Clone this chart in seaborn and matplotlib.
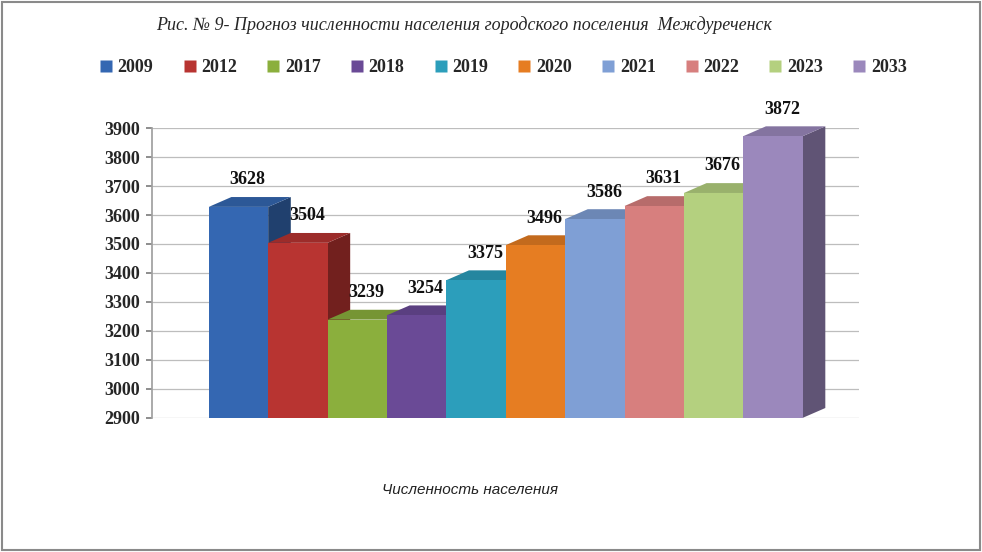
import matplotlib
matplotlib.use("Agg")
import matplotlib.pyplot as plt
import seaborn as sns
import pandas as pd
from matplotlib.patches import Polygon, Rectangle
from matplotlib.lines import Line2D
import matplotlib.colors as mcolors

years = ["2009", "2012", "2017", "2018", "2019", "2020", "2021", "2022", "2023", "2033"]
values = [3628, 3504, 3239, 3254, 3375, 3496, 3586, 3631, 3676, 3872]
category = "Численность населения"
colors = ["#3467B2", "#B83431", "#8BAF3D", "#6A4A96", "#2C9EBB",
          "#E67D22", "#7F9FD5", "#D77F7E", "#B4D07F", "#9B88BC"]
yticks = list(range(2900, 4000, 100))

df = pd.DataFrame({"cat": [category] * len(years), "year": years, "value": values})

sns.set_theme(style="white")
plt.rcParams["font.family"] = ["Liberation Serif", "DejaVu Serif"]

fig = plt.figure(figsize=(9.82, 5.52), dpi=100)
ax = fig.add_axes([0.155, 0.243, 0.72, 0.525])

sns.barplot(data=df, x="cat", y="value", hue="year", palette=colors,
            width=0.84, dodge=True, ax=ax, legend=False, saturation=1,
            edgecolor="none", linewidth=0)

ax.set_ylim(2900, 3900)
ax.set_xlim(-0.5, 0.5)
ax.set_yticks(yticks)
ax.set_yticklabels([str(t) for t in yticks], fontweight="bold", fontsize=13)
ax.tick_params(axis="y", length=4, color="#808080", pad=5, left=True)
ax.set_xticks([])
ax.set_xlabel(category, fontsize=11, style="italic",
              family=["Liberation Sans", "DejaVu Sans"], color="#222222")
ax.xaxis.set_label_coords(0.45, -0.225)
ax.set_ylabel("")
ax.yaxis.grid(True, color="#bdbdbd", linewidth=0.9)
ax.set_axisbelow(True)
for s in ["top", "right", "bottom"]:
    ax.spines[s].set_visible(False)
ax.spines["left"].set_color("#a0a0a0")

dx = 0.032   # depth in x data units
dy = 34      # depth in value units
patches = sorted(ax.patches, key=lambda p: p.get_x())
for i, p in enumerate(patches):
    x0 = p.get_x()
    w = p.get_width()
    h = p.get_height()
    y0 = 2900
    y1 = h
    base = mcolors.to_rgb(p.get_facecolor())
    z = 3 + i * 0.01
    p.set_zorder(z)
    side_c = tuple(c * 0.62 for c in base)
    top_c = tuple(c * 0.85 for c in base)
    side = Polygon([(x0 + w, y0), (x0 + w + dx, y0 + dy), (x0 + w + dx, y1 + dy), (x0 + w, y1)],
                   closed=True, facecolor=side_c, edgecolor="none", zorder=z - 0.005, clip_on=False)
    top = Polygon([(x0, y1), (x0 + w, y1), (x0 + w + dx, y1 + dy), (x0 + dx, y1 + dy)],
                  closed=True, facecolor=top_c, edgecolor="none", zorder=z - 0.004, clip_on=False)
    ax.add_patch(side)
    ax.add_patch(top)
    ax.text(x0 + w / 2 + dx * 0.4, y1 + dy + 30, f"{values[i]}", ha="center", va="bottom",
            fontsize=13, fontweight="bold", color="#111111", zorder=10, clip_on=False)

fig.text(0.473, 0.955, "Рис. № 9- Прогноз численности населения городского поселения  Междуреченск",
         ha="center", va="center", fontsize=13, style="italic")

handles = [Line2D([0], [0], marker="s", linestyle="none", markersize=8,
                  markerfacecolor=c, markeredgecolor="none") for c in colors]
leg = fig.legend(handles, years, loc="center", bbox_to_anchor=(0.512, 0.877), ncol=10,
                 frameon=False, handletextpad=0.25, columnspacing=1.6, handlelength=0.8,
                 prop={"family": "Liberation Serif", "weight": "bold", "size": 13})

fig.add_artist(Rectangle((0.002, 0.003), 0.996, 0.993, transform=fig.transFigure,
                         fill=False, edgecolor="#8a8a8a", linewidth=1.5))

fig.savefig("out.png", dpi=100)
